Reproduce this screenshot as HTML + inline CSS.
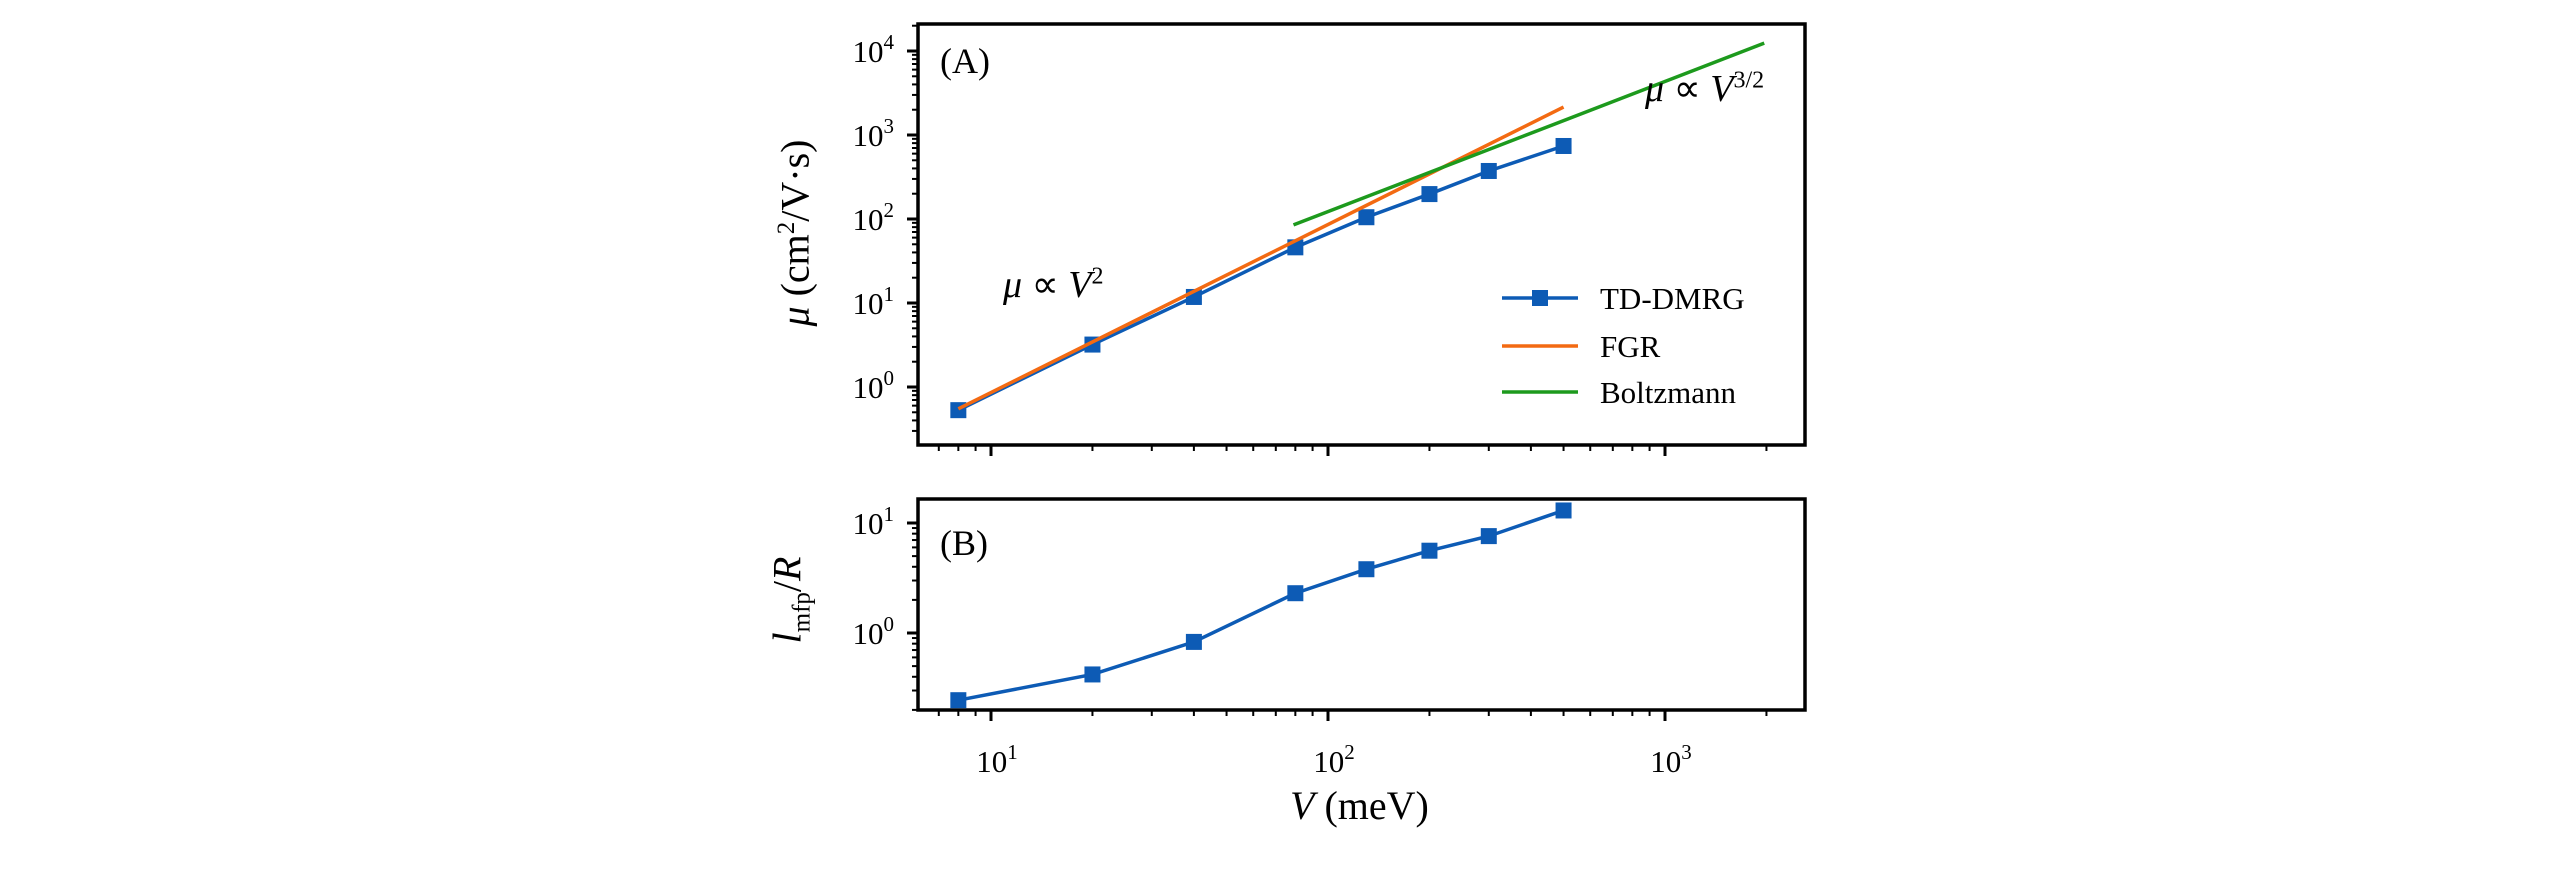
<!DOCTYPE html>
<html><head><meta charset="utf-8"><style>
html,body{margin:0;padding:0;background:#fff;}
svg{display:block;font-family:"Liberation Serif",serif;}
</style></head><body>
<svg id="c" width="2567" height="887" viewBox="0 0 2567 887" xmlns="http://www.w3.org/2000/svg"></svg>
<script>
const voltages = [8, 20, 40, 80, 130, 200, 300, 500];
const mobilityTD = [0.53, 3.2, 11.8, 46, 105, 198, 373, 740];
const mfpTD = [0.245, 0.42, 0.83, 2.3, 3.8, 5.6, 7.6, 13];
const fgrV = [8, 500];
const fgrMu = [0.55, 2150];
const boltzV = [79, 1970];
const boltzMu = [85, 12400];
const topTicks = [0, 1, 2, 3, 4];
const botTicks = [0, 1];
const xTicks = [1, 2, 3];
const legendLabels = ["TD-DMRG", "FGR", "Boltzmann"];

const NS = "http://www.w3.org/2000/svg";
const svgRoot = document.getElementById("c");
function el(tag, attrs, parent) {
  const e = document.createElementNS(NS, tag);
  for (const k in attrs) e.setAttribute(k, attrs[k]);
  (parent || svgRoot).appendChild(e);
  return e;
}
const X0 = 918, X1 = 1805;
const xLogMin = 1 + (918 - 991) / 337, xLogMax = 1 + (1805 - 991) / 337;
function xs(v) { return X0 + (Math.log10(v) - xLogMin) / (xLogMax - xLogMin) * (X1 - X0); }
const panelTop = { y0: 24, y1: 445, lmin: -(445 - 387) / 84, lmax: (387 - 24) / 84 };
const panelBot = { y0: 499, y1: 710, lmin: -(710 - 633) / 110, lmax: (633 - 499) / 110 };
function ys(p, v) { return p.y1 - (Math.log10(v) - p.lmin) / (p.lmax - p.lmin) * (p.y1 - p.y0); }
const BLUE = "#0d5bb5", ORANGE = "#f36a12", GREEN = "#1d9a1d";

function drawPanel(p, ticks, name) {
  const g = el("g", {});
  
  
  for (let d = Math.floor(p.lmin); d <= Math.ceil(p.lmax); d++) {
    for (let m = 1; m < 10; m++) {
      const l = d + Math.log10(m);
      if (l < p.lmin || l > p.lmax) continue;
      const y = p.y1 - (l - p.lmin) / (p.lmax - p.lmin) * (p.y1 - p.y0);
      const len = m === 1 ? 11 : 6;
      const t = el("line", { x1: X0 - len, x2: X0, y1: y, y2: y, stroke: "#000", "stroke-width": m === 1 ? 3 : 2 }, g);
      
      
    }
  }
  ticks.forEach(d => {
    const y = ys(p, Math.pow(10, d));
    const tx = el("text", { x: 894, y: y + 11, "text-anchor": "end", "font-size": 31 }, g);
    
    
    tx.textContent = "10";
    const s = el("tspan", { dy: -13, "font-size": 21 }, tx);
    s.textContent = String(d);
  });
  for (let d = 0; d <= 3; d++) {
    for (let m = 1; m < 10; m++) {
      const l = d + Math.log10(m);
      if (l < xLogMin || l > xLogMax) continue;
      const x = xs(Math.pow(10, l));
      const len = m === 1 ? 11 : 6;
      const t = el("line", { x1: x, x2: x, y1: p.y1, y2: p.y1 + len, stroke: "#000", "stroke-width": m === 1 ? 3 : 2 }, g);
      
      
    }
  }
  const r = el("rect", { x: X0, y: p.y0, width: X1 - X0, height: p.y1 - p.y0, fill: "none", stroke: "#000", "stroke-width": 3.5 }, g);
  
  
  return g;
}
drawPanel(panelTop, topTicks, "panel-a");
drawPanel(panelBot, botTicks, "panel-b");

function poly(p, xsArr, ysArr, color, name) {
  const pts = xsArr.map((v, i) => xs(v) + "," + ys(p, ysArr[i])).join(" ");
  const l = el("polyline", { points: pts, fill: "none", stroke: color, "stroke-width": 3.5 });
  
  
}
function markers(p, xsArr, ysArr, name) {
  xsArr.forEach((v, i) => {
    const m = el("rect", { x: xs(v) - 8, y: ys(p, ysArr[i]) - 8, width: 16, height: 16, fill: BLUE });
    
    
  });
}
poly(panelTop, voltages, mobilityTD, BLUE, "td-dmrg-line");
markers(panelTop, voltages, mobilityTD, "td-dmrg-marker");
poly(panelTop, fgrV, fgrMu, ORANGE, "fgr-line");
poly(panelTop, boltzV, boltzMu, GREEN, "boltzmann-line");
poly(panelBot, voltages, mfpTD, BLUE, "mfp-line");
markers(panelBot, voltages, mfpTD, "mfp-marker");

xTicks.forEach(d => {
  const t = el("text", { x: xs(Math.pow(10, d)) + 6, y: 772, "text-anchor": "middle", "font-size": 31 });
  
  
  t.textContent = "10";
  const s = el("tspan", { dy: -13, "font-size": 21 }, t);
  s.textContent = String(d);
});

const legColors = [BLUE, ORANGE, GREEN];
const legY = [298, 346, 392];
legendLabels.forEach((lab, i) => {
  const g = el("g", {});
  
  
  el("line", { x1: 1502, x2: 1578, y1: legY[i], y2: legY[i], stroke: legColors[i], "stroke-width": 3.5 }, g);
  if (i === 0) el("rect", { x: 1532, y: legY[i] - 8, width: 16, height: 16, fill: BLUE }, g);
  const t = el("text", { x: 1600, y: legY[i] + 11, "font-size": 31 }, g);
  t.textContent = lab;
});
</script>
<div style="position:absolute;left:0;top:0;width:2567px;height:887px;pointer-events:none;font-family:'Liberation Serif',serif;">
  <div style="position:absolute;left:940px;top:40px;font-size:36px;">(A)</div>
  <div style="position:absolute;left:940px;top:522px;font-size:36px;">(B)</div>
  <div style="position:absolute;left:1003px;top:262px;font-size:38px;font-style:italic;white-space:nowrap;">μ <span style="font-style:normal">∝</span> V<sup style="font-size:24px;font-style:normal">2</sup></div>
  <div style="position:absolute;left:1645px;top:66px;font-size:38px;font-style:italic;white-space:nowrap;">μ <span style="font-style:normal">∝</span> V<sup style="font-size:24px;font-style:normal">3/2</sup></div>
  <div style="position:absolute;left:1290px;top:782px;font-size:40px;white-space:nowrap;"><i>V</i> (meV)</div>
  <div style="position:absolute;left:795px;top:233px;width:0;height:0;">
    <div style="position:absolute;transform:translate(-50%,-50%) rotate(-90deg);white-space:nowrap;font-size:40px;"><i>μ</i> (cm<sup style="font-size:25px">2</sup>/V·s)</div>
  </div>
  <div style="position:absolute;left:790px;top:600px;width:0;height:0;">
    <div style="position:absolute;transform:translate(-50%,-50%) rotate(-90deg);white-space:nowrap;font-size:40px;"><i>l</i><sub style="font-size:25px">mfp</sub>/<i>R</i></div>
  </div>
</div>
</body></html>
